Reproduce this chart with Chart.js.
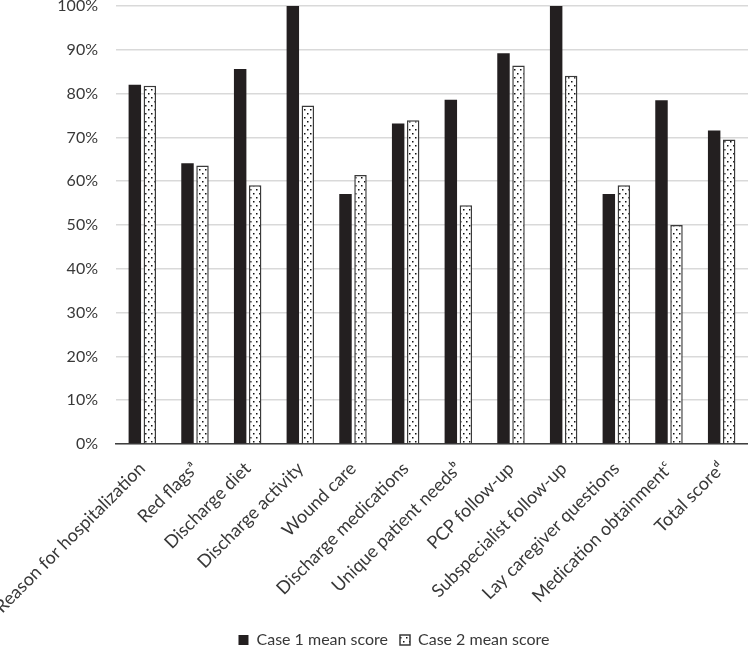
<!DOCTYPE html>
<html>
<head>
<meta charset="utf-8">
<script src="https://cdn.jsdelivr.net/npm/chart.js@4/dist/chart.umd.min.js"></script>
<style>
  html, body { margin: 0; padding: 0; background: #fff; }
  #wrap { width: 748px; height: 648px; }
</style>
</head>
<body>
<div id="wrap"><canvas id="chart"></canvas></div>
<script>
// category labels (superscripts as unicode)
const categories = [
    'Reason for hospitalization', 'Red flags\u1D43', 'Discharge diet', 'Discharge activity',
    'Wound care', 'Discharge medications', 'Unique patient needs\u1D47', 'PCP follow-up',
    'Subspecialist follow-up', 'Lay caregiver questions', 'Medication obtainment\u1D9C', 'Total score\u1D48'
];
const case1Scores = [82.0, 64.1, 85.6, 100, 57.1, 73.2, 78.6, 89.2, 100, 57.1, 78.5, 71.6];
const case2Scores = [81.8, 63.6, 59.1, 77.3, 61.4, 73.9, 54.5, 86.4, 84.1, 59.1, 50.0, 69.5];
const seriesNames = ['Case 1 mean score', 'Case 2 mean score'];

const textColor = '#383838';
const fontFamily = 'Lato, "Open Sans", sans-serif';

// white fill with staggered black dots
function makeDotPattern() {
    const tile = document.createElement('canvas');
    tile.width = 6;
    tile.height = 8;
    const c = tile.getContext('2d');
    c.fillStyle = '#ffffff';
    c.fillRect(0, 0, 6, 8);
    c.fillStyle = '#111111';
    c.fillRect(1, 1, 1.5, 1.5);
    c.fillRect(4, 5, 1.5, 1.5);
    return document.getElementById('chart').getContext('2d').createPattern(tile, 'repeat');
}

const dots = makeDotPattern();

new Chart(document.getElementById('chart'), {
    type: 'bar',
    data: {
        labels: categories,
        datasets: [
            {
                label: seriesNames[0],
                data: case1Scores,
                backgroundColor: '#231f20',
                borderColor: '#231f20',
                borderWidth: 0,
                categoryPercentage: 0.57,
                barPercentage: 0.83
            },
            {
                label: seriesNames[1],
                data: case2Scores,
                backgroundColor: dots,
                borderColor: '#3a3a3a',
                borderWidth: 1.5,
                categoryPercentage: 0.57,
                barPercentage: 0.83
            }
        ]
    },
    options: {
        responsive: true,
        maintainAspectRatio: false,
        animation: false,
        // left padding only nudges the legend to the right; the y axis width makes up for it
        layout: { padding: { top: 0, right: 0, bottom: -10, left: 40 } },
        plugins: {
            tooltip: { enabled: false },
            legend: {
                position: 'bottom',
                labels: {
                    color: textColor,
                    font: { family: fontFamily, size: 16 },
                    boxWidth: 10,
                    boxHeight: 10,
                    padding: 12,
                    useBorderRadius: false
                }
            }
        },
        scales: {
            x: {
                grid: { display: false },
                border: { display: true, color: '#404040', width: 1.5 },
                ticks: {
                    color: textColor,
                    font: { family: fontFamily, size: 18 },
                    minRotation: 45,
                    maxRotation: 45,
                    autoSkip: false,
                    padding: 6
                },
                afterFit(scale) {
                    scale.paddingLeft = 0;
                    scale.paddingRight = 0;
                    scale.height = 176;
                }
            },
            y: {
                min: 0,
                max: 100,
                grid: { color: '#d9d9d9', lineWidth: 1.5, drawTicks: false },
                border: { display: false },
                ticks: {
                    stepSize: 10,
                    color: textColor,
                    font: { family: fontFamily, size: 16 },
                    padding: 18,
                    callback: v => v + '%'
                },
                afterFit(scale) {
                    scale.width = 76;
                    scale.paddingTop = 6;
                    scale.paddingBottom = 0;
                }
            }
        }
    }
});
</script>
</body>
</html>
